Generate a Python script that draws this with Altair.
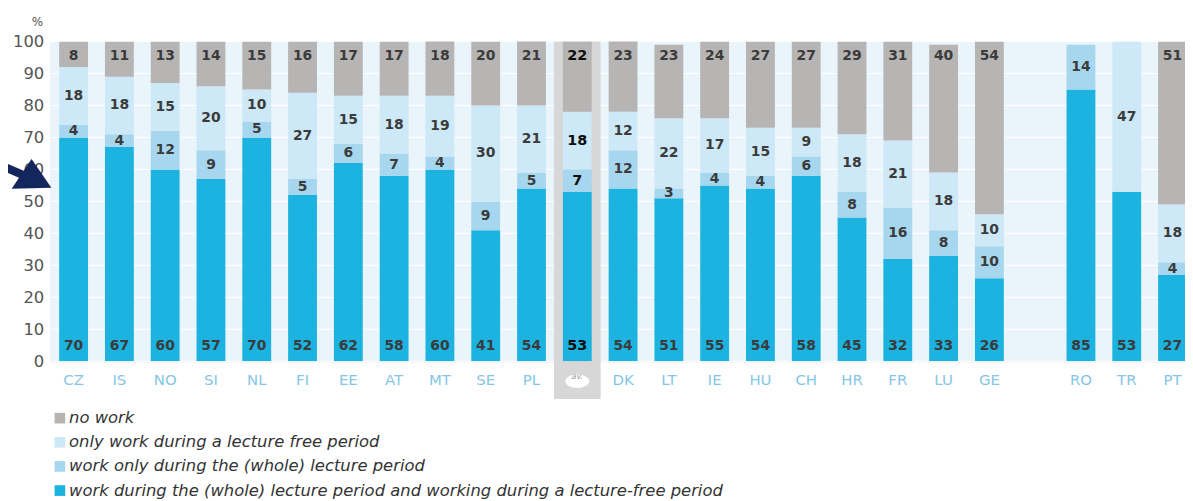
import altair as alt
import pandas as pd

# ---- data ----
countries = ["CZ", "IS", "NO", "SI", "NL", "FI", "EE", "AT", "MT", "SE", "PL", "av.",
             "DK", "LT", "IE", "HU", "CH", "HR", "FR", "LU", "GE", " ", "RO", "TR", "PT"]
bar_countries = [c for c in countries if c != " "]

both = [70, 67, 60, 57, 70, 52, 62, 58, 60, 41, 54, 53, 54, 51, 55, 54, 58, 45, 32, 33, 26, 85, 53, 27]
lecture_only = [4, 4, 12, 9, 5, 5, 6, 7, 4, 9, 5, 7, 12, 3, 4, 4, 6, 8, 16, 8, 10, 14, 0, 4]
free_only = [18, 18, 15, 20, 10, 27, 15, 18, 19, 30, 21, 18, 12, 22, 17, 15, 9, 18, 21, 18, 10, 0, 47, 18]
no_work = [8, 11, 13, 14, 15, 16, 17, 17, 18, 20, 21, 22, 23, 23, 24, 27, 27, 29, 31, 40, 54, 0, 0, 51]

L_NO = "no work"
L_FREE = "only work during a lecture free period"
L_LEC = "work only during the (whole) lecture period"
L_BOTH = "work during the (whole) lecture period and working during a lecture-free period"
legend_order = [L_NO, L_FREE, L_LEC, L_BOTH]
colors = ["#b7b4b4", "#cde8f6", "#a6d7ef", "#1cb3e0"]

y_ticks = list(range(0, 101, 10))

# ---- build table ----
rows = []
for i, c in enumerate(bar_countries):
    cum = 0
    for order, (cat, vals) in enumerate([(L_BOTH, both), (L_LEC, lecture_only),
                                          (L_FREE, free_only), (L_NO, no_work)]):
        v = vals[i]
        if v <= 0:
            continue
        y0, y1 = cum, cum + v
        if cat == L_BOTH:
            lab = 4.7
        elif cat == L_NO:
            lab = 95.3
        else:
            lab = (y0 + y1) / 2
        rows.append({"country": c, "cat": cat, "order": order, "value": v,
                     "y0": y0, "y1": y1, "ylab": lab})
        cum = y1
df = pd.DataFrame(rows)

FONT = "DejaVu Sans"
W, H = 1142, 322

x_scale = alt.Scale(domain=countries, range=[0, 1152.5], paddingInner=0.37, paddingOuter=0.185)
x_axis = alt.Axis(title=None, ticks=False, tickSize=0, domain=False, labelPadding=11,
                  labelAngle=0,
                  labelFontSize={"condition": {"test": "datum.value === 'av.'", "value": 8}, "value": 15},
                  labelColor={"condition": {"test": "datum.value === 'av.'", "value": "#999999"}, "value": "#86c6e6"},
                  labelFontStyle={"condition": {"test": "datum.value === 'av.'", "value": "italic"}, "value": "normal"},
                  labelFont=FONT, zindex=1)
y_scale = alt.Scale(domain=[0, 100], nice=False, zero=True)
y_axis = alt.Axis(title="%", titleAngle=0, titleX=-14, titleY=-20, titleAlign="center",
                  titleBaseline="middle", titleFontSize=12, titleFontWeight="normal",
                  titleColor="#555555", titleFont=FONT,
                  values=y_ticks, ticks=False, tickSize=0, domain=False, labelPadding=7,
                  labelFontSize=16.5, labelColor="#555555", labelFont=FONT,
                  grid=False, zindex=0)

base = alt.Chart(df)

# light blue plot background
bg = alt.Chart(pd.DataFrame({"a": [0]})).mark_rect(color="#eaf5fb").encode(
    x=alt.value(0), x2=alt.value(W), y=alt.value(0), y2=alt.value(H)
)

# white gridlines
grid = alt.Chart(pd.DataFrame({"t": y_ticks})).mark_rule(color="#ffffff", strokeWidth=1).encode(
    y=alt.Y("t:Q", scale=y_scale, axis=y_axis),
    x=alt.value(0), x2=alt.value(W)
)

# gray highlight column behind the average bar
hl = alt.Chart(pd.DataFrame({"country": ["av."]})).mark_bar(
    color="#d7d7d7", width=alt.RelativeBandSize(1.62)
).encode(
    x=alt.X("country:N", scale=x_scale, axis=x_axis, sort=countries),
    y=alt.value(0), y2=alt.value(360)
)

bars = base.mark_bar(clip=True).encode(
    x=alt.X("country:N", scale=x_scale, axis=x_axis, sort=countries),
    y=alt.Y("y0:Q", scale=y_scale, axis=y_axis),
    y2="y1:Q",
    color=alt.Color("cat:N", scale=alt.Scale(domain=legend_order, range=colors),
                    legend=alt.Legend(title=None, orient="none", legendX=1, legendY=371,
                                      symbolType="square", symbolSize=115, symbolStrokeWidth=0,
                                      labelFontStyle="italic", labelFontSize=16.5, labelColor="#333333",
                                      labelFont=FONT, labelLimit=900, rowPadding=7.3,
                                      labelOffset=1)),
    order="order:Q",
)

labels = base.transform_filter("datum.country !== 'av.'").mark_text(
    fontSize=14, fontWeight="bold", color="#3b3b3b", font=FONT, baseline="middle", clip=True
).encode(
    x=alt.X("country:N", scale=x_scale, axis=x_axis, sort=countries),
    y=alt.Y("ylab:Q", scale=y_scale, axis=y_axis),
    text="value:Q",
)

labels_av = base.transform_filter("datum.country === 'av.'").mark_text(
    fontSize=14.5, fontWeight=900, color="#0d0d0d", font=FONT, baseline="middle"
).encode(
    x=alt.X("country:N", scale=x_scale, axis=x_axis, sort=countries),
    y=alt.Y("ylab:Q", scale=y_scale, axis=y_axis),
    text="value:Q",
)

# white oval behind the "av." tick label
oval = alt.Chart(pd.DataFrame({"country": ["av."]})).mark_point(
    shape="M -1 0 A 1 0.55 0 1 0 1 0 A 1 0.55 0 1 0 -1 0 Z",
    size=576, filled=True, color="#ffffff", opacity=1, strokeWidth=0
).encode(
    x=alt.X("country:N", scale=x_scale, axis=x_axis, sort=countries),
    y=alt.value(342),
)

# navy annotation arrow at the left
arrow = alt.Chart(pd.DataFrame({"a": [0]})).mark_point(
    shape="M -1.04 -0.56 L -0.088 -0.152 L 0.228 -0.628 L 1.028 0.532 L -0.572 0.572 L -0.276 0.128 L -1.04 -0.2 Z",
    size=2500, filled=True, color="#14265e", opacity=1, strokeWidth=0
).encode(x=alt.value(-25), y=alt.value(134))

chart = alt.layer(bg, grid, hl, bars, labels, labels_av, oval, arrow).properties(
    width=W, height=H,
    autosize=alt.AutoSizeParams(type="none"),
    padding={"left": 43, "top": 32, "right": 0, "bottom": 146},
    background="#ffffff",
).configure_view(stroke=None).configure(font=FONT)

chart.save("out.html", embed_options={"renderer": "svg", "actions": False})
